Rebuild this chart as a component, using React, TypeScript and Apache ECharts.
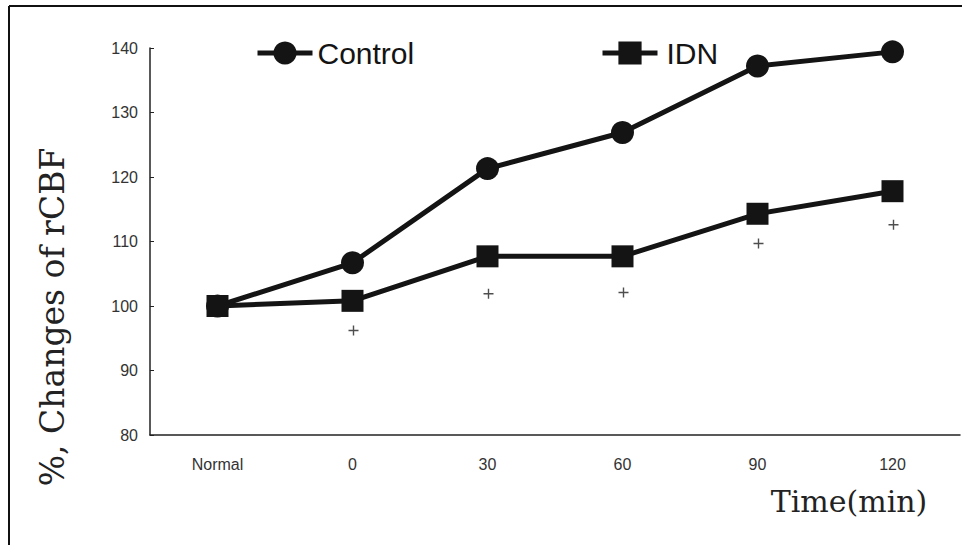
import React, { useEffect, useRef } from "react";
import * as echarts from "echarts";

const categories = ["Normal", "0", "30", "60", "90", "120"];
const controlValues = [100, 106.7, 121.3, 126.9, 137.2, 139.4];
const idnValues = [100, 100.8, 107.7, 107.7, 114.3, 117.8];
const plusMarks: [string, number][] = [
  ["0", 96.2],
  ["30", 101.9],
  ["60", 102.1],
  ["90", 109.7],
  ["120", 112.6],
];
const yMin = 80;
const yMax = 140;
const yInterval = 10;
const yTitle = "%, Changes of rCBF";
const xTitle = "Time(min)";

const INK = "#141414";
const PLUS = "path://M4.3,0H5.7V4.3H10V5.7H5.7V10H4.3V5.7H0V4.3H4.3Z";

export default function App() {
  const ref = useRef<HTMLDivElement>(null);
  useEffect(() => {
    if (!ref.current) return;
    const chart = echarts.init(ref.current, undefined, { renderer: "svg" });
    const tickFont = { fontFamily: "Liberation Sans", fontSize: 16, color: "#333" };
    const legendBase = {
      top: 38,
      padding: 0,
      itemWidth: 55,
      itemHeight: 29,
      lineStyle: { width: 5 },
      textStyle: { fontFamily: "Liberation Sans", fontSize: 30, color: INK },
    };
    chart.setOption({
      animation: false,
      backgroundColor: "#ffffff",
      grid: { left: 150, right: 2, top: 48, bottom: 110 },
      legend: [
        { ...legendBase, data: ["Control"], left: 255 },
        { ...legendBase, data: ["IDN"], left: 600, textStyle: { ...legendBase.textStyle, padding: [0, 0, 0, 4] } },
      ],
      xAxis: {
        type: "category",
        data: categories,
        boundaryGap: true,
        axisLine: { lineStyle: { color: "#222", width: 1.5 } },
        axisTick: { inside: true, length: 4, lineStyle: { color: "#222" } },
        axisLabel: { ...tickFont, margin: 21 },
        splitLine: { show: false },
      },
      yAxis: {
        type: "value",
        min: yMin,
        max: yMax,
        interval: yInterval,
        axisLine: { show: true, lineStyle: { color: "#222", width: 1.5 } },
        axisTick: { show: true, inside: true, length: 4, lineStyle: { color: "#222" } },
        axisLabel: { ...tickFont, margin: 12 },
        splitLine: { show: false },
      },
      series: [
        {
          name: "Control",
          type: "line",
          data: controlValues,
          symbol: "circle",
          symbolSize: 23,
          lineStyle: { color: INK, width: 5 },
          itemStyle: { color: INK },
          z: 3,
        },
        {
          name: "IDN",
          type: "line",
          data: idnValues,
          symbol: "rect",
          symbolSize: 22,
          lineStyle: { color: INK, width: 5 },
          itemStyle: { color: INK },
          z: 3,
        },
        {
          name: "sig",
          type: "scatter",
          data: plusMarks,
          symbol: PLUS,
          symbolSize: 10,
          symbolOffset: [1, 0],
          itemStyle: { color: "#222" },
          silent: true,
        },
      ],
      graphic: [
        { type: "line", shape: { x1: 9, y1: 6, x2: 962, y2: 6 }, style: { stroke: "#111", lineWidth: 2 } },
        { type: "line", shape: { x1: 9, y1: 6, x2: 9, y2: 545 }, style: { stroke: "#111", lineWidth: 2 } },
        {
          type: "text",
          x: 52,
          y: 317,
          rotation: Math.PI / 2,
          style: {
            text: yTitle,
            fontFamily: "DejaVu Serif",
            fontSize: 33,
            fill: "#222",
            textAlign: "center",
            textVerticalAlign: "middle",
          },
        },
        {
          type: "text",
          x: 849,
          y: 501,
          style: {
            text: xTitle,
            fontFamily: "DejaVu Serif",
            fontSize: 30,
            fill: "#222",
            textAlign: "center",
            textVerticalAlign: "middle",
          },
        },
      ],
    });
    return () => chart.dispose();
  }, []);
  return (
    <div
      ref={ref}
      style={{ position: "fixed", left: 0, top: 0, width: 962, height: 545, background: "#fff" }}
    />
  );
}
